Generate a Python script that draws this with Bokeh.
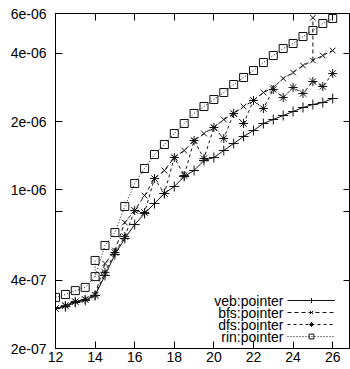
from bokeh.plotting import figure
from bokeh.models import (FixedTicker, LinearAxis, LogAxis, CustomJSTickFormatter,
                          Legend, LegendItem, Range1d, ColumnDataSource, Label)
from bokeh.embed import file_html
from bokeh.resources import INLINE

# ---------------- data ----------------
x_vals = [12, 12.5, 13, 13.5, 14, 14.5, 15, 15.5, 16, 16.5, 17, 17.5, 18, 18.5,
          19, 19.5, 20, 20.5, 21, 21.5, 22, 22.5, 23, 23.5, 24, 24.5, 25, 25.5, 26]

veb = [3.00e-7, 3.06e-7, 3.19e-7, 3.26e-7, 3.43e-7, 4.20e-7, 5.19e-7, 6.11e-7,
       7.04e-7, 7.87e-7, 8.72e-7, 9.65e-7, 1.036e-6, 1.147e-6, 1.219e-6, 1.349e-6,
       1.390e-6, 1.493e-6, 1.603e-6, 1.721e-6, 1.829e-6, 1.964e-6, 2.045e-6,
       2.130e-6, 2.218e-6, 2.310e-6, 2.382e-6, 2.430e-6, 2.531e-6]

bfs = [3.00e-7, 3.09e-7, 3.22e-7, 3.29e-7, 3.46e-7, 4.74e-7, 5.41e-7, 7.19e-7,
       8.12e-7, 9.45e-7, 1.123e-6, 1.219e-6, 1.390e-6, 1.493e-6, 1.652e-6, 1.774e-6,
       1.886e-6, 2.045e-6, 2.174e-6, 2.334e-6, 2.480e-6, 2.690e-6, 2.830e-6,
       3.101e-6, 3.296e-6, 3.538e-6, 3.723e-6, 3.916e-6, 4.120e-6]

dfs = [3.00e-7, 3.09e-7, 3.22e-7, 3.29e-7, 3.43e-7, 4.33e-7, 5.30e-7, 6.23e-7,
       8.12e-7, 7.95e-7, 1.123e-6, 9.65e-7, 1.390e-6, 1.158e-6, 1.652e-6, 1.376e-6,
       1.886e-6, 1.686e-6, 2.174e-6, 1.964e-6, 2.480e-6, 2.287e-6, 2.773e-6,
       2.557e-6, 2.830e-6, 2.663e-6, 3.008e-6, 2.859e-6, 3.263e-6]

rin = [3.36e-7, 3.46e-7, 3.60e-7, 3.72e-7, 4.15e-7, 5.69e-7, 6.49e-7, 8.46e-7,
       1.068e-6, 1.244e-6, 1.433e-6, 1.587e-6, 1.774e-6, 1.964e-6, 2.174e-6, 2.334e-6,
       2.506e-6, 2.690e-6, 2.918e-6, 3.133e-6, 3.364e-6, 3.648e-6, 3.916e-6,
       4.205e-6, 4.424e-6, 4.749e-6, 5.048e-6, 5.420e-6, 5.702e-6]

# repeated measurements (second sample at the same size)
rin_extra_x = [14]
rin_extra_from = [4.15e-7]
rin_extra_to = [4.89e-7]
bfs_extra_x = [25]
bfs_extra_from = [3.723e-6]
bfs_extra_to = [5.75e-6]

series_labels = ["veb:pointer", "bfs:pointer", "dfs:pointer", "rin:pointer"]
x_ticks = [12, 14, 16, 18, 20, 22, 24, 26]
y_ticks = [2e-7, 4e-7, 1e-6, 2e-6, 4e-6, 6e-6]
y_minor_ticks = [8e-7]

FONT = "Liberation Sans"
INK = "#111111"

# ---------------- figure ----------------
p = figure(width=350, height=369, x_range=Range1d(12, 26.9), y_range=Range1d(2e-7, 6e-6),
           y_axis_type="log", output_backend="svg", toolbar_location=None,
           min_border_left=55, min_border_right=0, min_border_top=13, min_border_bottom=21)
p.grid.visible = False
p.outline_line_color = "black"
p.outline_line_width = 1
p.background_fill_color = "white"
p.border_fill_color = "white"

yfmt = CustomJSTickFormatter(code="""
const s = tick.toExponential(0);
return s.replace(/e([+-])(\\d)$/, (m, a, b) => "e" + a + "0" + b);
""")
blank = CustomJSTickFormatter(code="return '';")

def style_axis(ax, labels=True):
    ax.axis_line_color = "black"
    ax.major_tick_in = 7
    ax.major_tick_out = 0
    ax.minor_tick_in = 7
    ax.minor_tick_out = 0
    ax.major_tick_line_color = "black"
    ax.minor_tick_line_color = "black"
    ax.major_label_text_font = FONT
    ax.major_label_text_font_size = "14px" if labels else "0px"
    ax.major_label_text_color = "black"

xb = p.xaxis[0]
xb.ticker = FixedTicker(ticks=x_ticks, minor_ticks=[])
style_axis(xb)
xb.major_label_standoff = 3

yl = p.yaxis[0]
yl.ticker = FixedTicker(ticks=y_ticks, minor_ticks=y_minor_ticks)
yl.formatter = yfmt
style_axis(yl)
yl.major_label_standoff = 9

xt = LinearAxis(ticker=FixedTicker(ticks=x_ticks, minor_ticks=[]), formatter=blank,
                major_label_standoff=0)
style_axis(xt, labels=False)
p.add_layout(xt, "above")

yr = LogAxis(ticker=FixedTicker(ticks=y_ticks, minor_ticks=y_minor_ticks), formatter=blank,
             major_label_standoff=0)
style_axis(yr, labels=False)
p.add_layout(yr, "right")

# ---------------- series ----------------
src = ColumnDataSource(dict(x=x_vals, veb=veb, bfs=bfs, dfs=dfs, rin=rin))

specs = [
    ("veb", "solid", "cross", 10),
    ("bfs", "4 3", "x", 8),
    ("dfs", "3 3", "asterisk", 9),
    ("rin", "1 2", "square", 8),
]

items = []
for key, dash, marker, size in specs:
    ln = p.line("x", key, source=src, line_color=INK, line_width=1, line_dash=dash)
    sc = p.scatter("x", key, source=src, marker=marker, size=size,
                   line_color=INK, fill_color=None, line_width=1)
    items.append(LegendItem(label="", renderers=[ln, sc]))

# repeated samples
rin_x_src = ColumnDataSource(dict(x=rin_extra_x, y0=rin_extra_from, y1=rin_extra_to))
p.segment(x0="x", y0="y0", x1="x", y1="y1", source=rin_x_src,
          line_color=INK, line_width=1, line_dash="1 2")
p.scatter("x", "y1", source=rin_x_src, marker="square", size=8,
          line_color=INK, fill_color=None)

bfs_x_src = ColumnDataSource(dict(x=bfs_extra_x, y0=bfs_extra_from, y1=bfs_extra_to))
p.segment(x0="x", y0="y0", x1="x", y1="y1", source=bfs_x_src,
          line_color=INK, line_width=1, line_dash="4 3")
p.scatter("x", "y1", source=bfs_x_src, marker="x", size=8,
          line_color=INK, fill_color=None)

# gnuplot-style key: right-aligned label placed to the left of each line sample
KEY_X, KEY_BOTTOM, ROW_H, SAMPLE_W, GAP = 232, 6, 12, 48, 4
legend = Legend(items=items, location=(KEY_X, KEY_BOTTOM), border_line_color=None,
                background_fill_alpha=0, label_text_font=FONT,
                label_text_font_size="14px", glyph_width=SAMPLE_W, glyph_height=ROW_H,
                label_height=ROW_H, label_width=0, spacing=0, padding=0, margin=0,
                label_standoff=0)
p.add_layout(legend)

n = len(series_labels)
for i, text in enumerate(series_labels):
    p.add_layout(Label(x=KEY_X - GAP, y=KEY_BOTTOM + (n - i - 0.5) * ROW_H,
                       x_units="screen", y_units="screen", text=text,
                       text_align="right", text_baseline="middle",
                       text_font=FONT, text_font_size="14px", text_color="black"))

open("out.html", "w").write(file_html(p, INLINE))
